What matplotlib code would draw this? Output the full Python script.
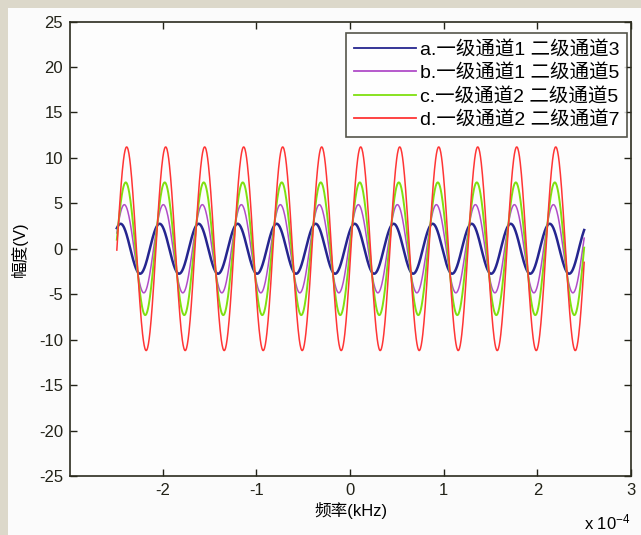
import numpy as np
import matplotlib
matplotlib.use("Agg")
import matplotlib.pyplot as plt
from matplotlib.patches import Rectangle

plt.rcParams['font.family'] = ['Liberation Sans', 'Noto Sans CJK SC', 'DejaVu Sans']
plt.rcParams['mathtext.default'] = 'regular'

# series
labels = ["a.一级通道1 二级通道3", "b.一级通道1 二级通道5",
          "c.一级通道2 二级通道5", "d.一级通道2 二级通道7"]
colors = ["#25258f", "#b04cc8", "#7fe010", "#ff3535"]
widths = [1.8, 1.1, 1.4, 1.1]
amplitudes = [2.75, 4.85, 7.3, 11.2]            # V
first_peak = [-2.45e-4, -2.41e-4, -2.395e-4, -2.385e-4]  # x of first crest
period = 4.165e-5                               # crest-to-crest spacing
x_start, x_end = -2.49e-4, 2.5e-4

xticks = [-2e-4, -1e-4, 0, 1e-4, 2e-4, 3e-4]
xticklabels = ["-2", "-1", "0", "1", "2", "3"]
yticks = list(range(-25, 26, 5))

fig = plt.figure(figsize=(6.41, 5.35), dpi=100)
fig.patch.set_facecolor('#dcd8ca')
fig.add_artist(Rectangle((8/641, 0), 1, 1 - 8/535, transform=fig.transFigure,
                         facecolor='#fbfbfb', edgecolor='none', zorder=0))

ax = fig.add_axes([70/641, 1 - 476/535, 561/641, 454.5/535])
ax.set_facecolor('#fdfdfd')

x = np.linspace(x_start, x_end, 1200)
for lab, c, lw, a, p in zip(labels, colors, widths, amplitudes, first_peak):
    y = a * np.cos(2 * np.pi * (x - p) / period)
    ax.plot(x, y, color=c, lw=lw, label=lab)

ax.set_xlim(-2.99e-4, 3e-4)
ax.set_ylim(-25, 25)
ax.set_xticks(xticks)
ax.set_xticklabels(xticklabels)
ax.set_yticks(yticks)
ax.set_yticklabels([str(v) for v in yticks])
ax.tick_params(direction='in', top=True, right=True, length=5, width=1,
               labelsize=12, pad=5, colors='#222218')
for s in ax.spines.values():
    s.set_color('#2b2b1e')
    s.set_linewidth(1.2)

ax.set_xlabel("频率(kHz)", fontsize=12, labelpad=3)
ax.set_ylabel("幅度(V)", fontsize=12, labelpad=8)
ax.text(1.0, -0.103, r"x 10$^{-4}$", transform=ax.transAxes, ha='right',
        va='center', fontsize=12)

leg = ax.legend(loc='upper right', bbox_to_anchor=(627/641, 1 - 33/535),
                bbox_transform=fig.transFigure, fontsize=14, frameon=True,
                fancybox=False, handlelength=3.2, handletextpad=0.2,
                labelspacing=0.28, borderpad=0.4, borderaxespad=0)
leg.get_frame().set_edgecolor('#2b2b1e')
leg.get_frame().set_linewidth(1.2)
for h in leg.get_lines():
    h.set_linewidth(1.3)

fig.savefig("out.png", dpi=100, facecolor=fig.get_facecolor())
